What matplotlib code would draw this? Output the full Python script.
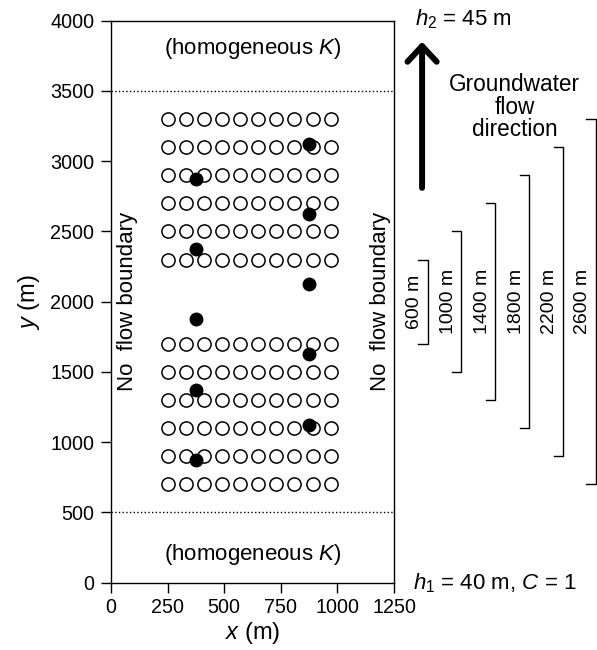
import matplotlib
matplotlib.use('Agg')
import matplotlib.pyplot as plt
import numpy as np

plt.rcParams['font.family'] = ['Liberation Sans', 'DejaVu Sans']
plt.rcParams['mathtext.fontset'] = 'custom'
plt.rcParams['mathtext.rm'] = 'Liberation Sans'
plt.rcParams['mathtext.it'] = 'Liberation Sans:italic'

# well grid (open circles)
grid_x = [250, 330, 410, 490, 570, 650, 730, 810, 890, 970]
grid_y_low = [700, 900, 1100, 1300, 1500, 1700]
grid_y_high = [2300, 2500, 2700, 2900, 3100, 3300]

# sampling points (filled)
pts_x = [375, 875, 375, 875, 375, 875, 375, 875, 375, 875]
pts_y = [875, 1125, 1375, 1625, 1875, 2125, 2375, 2625, 2875, 3125]

# distance brackets
bracket_len = [600, 1000, 1400, 1800, 2200, 2600]
bracket_x = [1398, 1548, 1698, 1846, 1996, 2140]
bracket_mid = 2000

fig = plt.figure(figsize=(5.97, 6.5), dpi=100)
ax = fig.add_axes([0.186, 0.1035, 0.474, 0.8647])

gx, gy = np.meshgrid(grid_x, grid_y_low + grid_y_high)
ax.plot(gx.ravel(), gy.ravel(), 'o', ms=9.5, mfc='white', mec='black', mew=1.1, ls='none')
ax.plot(pts_x, pts_y, 'o', ms=9, color='black', ls='none')

ax.axhline(500, color='black', ls=':', lw=1)
ax.axhline(3500, color='black', ls=':', lw=1)

ax.text(625, 3800, '(homogeneous $\\it{K}$)', ha='center', va='center', fontsize=16)
ax.text(625, 200, '(homogeneous $\\it{K}$)', ha='center', va='center', fontsize=16)
ax.text(71, 2000, 'No  flow boundary', rotation=90, ha='center', va='center', fontsize=16)
ax.text(1190, 2000, 'No  flow boundary', rotation=90, ha='center', va='center', fontsize=16)

ax.set_xlim(0, 1250)
ax.set_ylim(0, 4000)
ax.set_xticks(np.arange(0, 1251, 250))
ax.set_yticks(np.arange(0, 4001, 500))
ax.tick_params(direction='out', length=7, width=1, labelsize=14.2, top=False, right=False)
ax.tick_params(axis='y', pad=5)
ax.tick_params(axis='x', pad=4)
for s in ax.spines.values():
    s.set_linewidth(1)
ax.set_xlabel('$\\it{x}$ (m)', fontsize=17, labelpad=2)
ax.set_ylabel('$\\it{y}$ (m)', fontsize=17, labelpad=6)

# flow arrow and heads
ax.annotate('', xy=(1374, 3850), xytext=(1374, 2810), annotation_clip=False,
            arrowprops=dict(arrowstyle='->,head_length=0.45,head_width=0.42', lw=4.3,
                            color='black', mutation_scale=25, shrinkA=0, shrinkB=0))
ax.text(1782, 3385, 'Groundwater\nflow\ndirection', ha='center', va='center',
        fontsize=16.3, linespacing=0.95, clip_on=False)
ax.text(1343, 4010, '$h_2$ = 45 m', ha='left', va='center', fontsize=16, clip_on=False)
ax.text(1334, 0, '$h_1$ = 40 m, $C$ = 1', ha='left', va='center', fontsize=16, clip_on=False)

for L, bx in zip(bracket_len, bracket_x):
    y0 = bracket_mid - L / 2
    y1 = bracket_mid + L / 2
    ax.plot([bx - 40, bx, bx, bx - 40], [y1, y1, y0, y0], color='black', lw=1, clip_on=False)
    ax.text(bx - 57, bracket_mid, '%d m' % L, rotation=90, ha='center', va='center',
            fontsize=14, clip_on=False)

fig.savefig('out.png', dpi=100)
